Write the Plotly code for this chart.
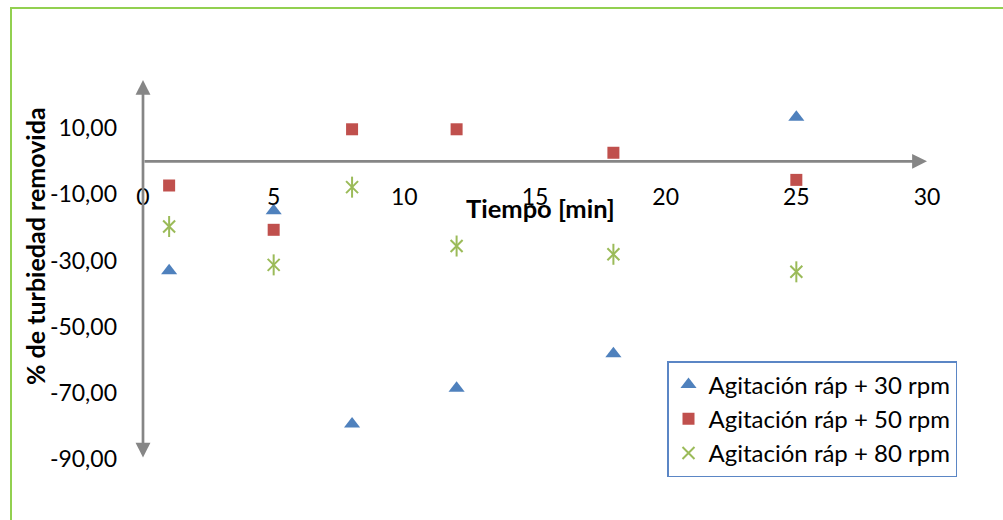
import plotly.graph_objects as go

# Sampling times (min) and removal percentages for each agitation speed
tiempo = [1, 5, 8, 12, 18, 25]
rpm_30 = [-33.1, -14.9, -79.4, -68.6, -58.2, 13.3]
rpm_50 = [-7.3, -20.7, 9.7, 9.7, 2.6, -5.6]
rpm_80 = [-19.7, -31.3, -7.8, -25.6, -28.1, -33.4]

series_names = ["Agitación ráp + 30 rpm", "Agitación ráp + 50 rpm", "Agitación ráp + 80 rpm"]

x_ticks = [0, 5, 10, 15, 20, 25, 30]
y_ticks = [10, -10, -30, -50, -70, -90]
y_tick_text = ["10,00", "-10,00", "-30,00", "-50,00", "-70,00", "-90,00"]

X_MIN, X_MAX = 0, 30
Y_MIN, Y_MAX = -90, 24.6

# page and plot-area geometry (pixels)
W, H = 1003, 520
L, R, T, B = 143, 76, 80, 61
PW, PH = W - L - R, H - T - B


def px_to_paper_x(px):
    return (px - L) / PW


def px_to_paper_y(py):
    return (H - B - py) / PH


FONT = "Lato"
AXIS_GREY = "#868686"
BLUE, RED, GREEN = "#4F81BD", "#C0504D", "#9BBB59"

fig = go.Figure()

fig.add_trace(go.Scatter(
    x=tiempo, y=rpm_30, mode="markers", name=series_names[0],
    marker=dict(symbol="triangle-up", size=14, color=BLUE),
))
fig.add_trace(go.Scatter(
    x=tiempo, y=rpm_50, mode="markers", name=series_names[1],
    marker=dict(symbol="square", size=12, color=RED),
))
# star marker: an x with a vertical stroke through it
fig.add_trace(go.Scatter(
    x=tiempo, y=rpm_80, mode="markers", name=series_names[2],
    legendgroup="r80",
    marker=dict(symbol="x-thin-open", size=12, color=GREEN,
                line=dict(color=GREEN, width=2)),
))
fig.add_trace(go.Scatter(
    x=tiempo, y=rpm_80, mode="markers", showlegend=False,
    legendgroup="r80", hoverinfo="skip",
    marker=dict(symbol="line-ns-open", size=15, color=GREEN,
                line=dict(color=GREEN, width=2)),
))

# axis lines with arrowheads
fig.add_annotation(
    x=X_MAX, y=0, ax=X_MIN, ay=0, xref="x", yref="y", axref="x", ayref="y",
    text="", showarrow=True, arrowhead=2, arrowsize=1.1, arrowwidth=2.7,
    arrowcolor=AXIS_GREY, standoff=0, startstandoff=0,
)
fig.add_annotation(
    x=0, y=Y_MAX, ax=0, ay=Y_MIN, xref="x", yref="y", axref="x", ayref="y",
    text="", showarrow=True, arrowhead=2, startarrowhead=2,
    arrowside="end+start", arrowsize=1.1, startarrowsize=1.1, arrowwidth=2.7,
    arrowcolor=AXIS_GREY, standoff=0, startstandoff=0,
)

# axis titles
fig.add_annotation(
    text="<b>% de turbiedad removida</b>", textangle=-90,
    x=px_to_paper_x(35), y=px_to_paper_y(246), xref="paper", yref="paper",
    xanchor="center", yanchor="middle", showarrow=False,
    font=dict(family=FONT, size=25, color="black"),
)
fig.add_annotation(
    text="<b>Tiempo [min]</b>",
    x=px_to_paper_x(540), y=px_to_paper_y(208), xref="paper", yref="paper",
    xanchor="center", yanchor="middle", showarrow=False,
    font=dict(family=FONT, size=25.5, color="black"),
)

# outer chart border
fig.add_shape(
    type="rect", xref="paper", yref="paper",
    x0=px_to_paper_x(11), x1=px_to_paper_x(W + 20),
    y0=px_to_paper_y(H + 20), y1=px_to_paper_y(8),
    line=dict(color="#92D050", width=2), fillcolor="rgba(0,0,0,0)", layer="below",
)

fig.update_layout(
    width=W, height=H,
    margin=dict(l=L, r=R, t=T, b=B, pad=0),
    paper_bgcolor="white", plot_bgcolor="white",
    font=dict(family=FONT, size=23, color="black"),
    showlegend=True,
    legend=dict(
        x=px_to_paper_x(667), y=px_to_paper_y(361), xanchor="left", yanchor="top",
        bordercolor="#5B86C5", borderwidth=1.5, bgcolor="white",
        font=dict(family=FONT, size=24, color="black"),
        itemwidth=30, tracegroupgap=0,
    ),
    xaxis=dict(
        range=[X_MIN, X_MAX], tickvals=x_ticks, ticktext=[str(v) for v in x_ticks],
        showgrid=False, zeroline=False, showline=False, ticks="",
        anchor="free", position=(0 - Y_MIN) / (Y_MAX - Y_MIN),
        ticklabelstandoff=20, fixedrange=True,
    ),
    yaxis=dict(
        range=[Y_MIN, Y_MAX], tickvals=y_ticks, ticktext=y_tick_text,
        showgrid=False, zeroline=False, showline=False, ticks="",
        ticklabelstandoff=25, fixedrange=True,
    ),
)

fig.write_html("out.html")
